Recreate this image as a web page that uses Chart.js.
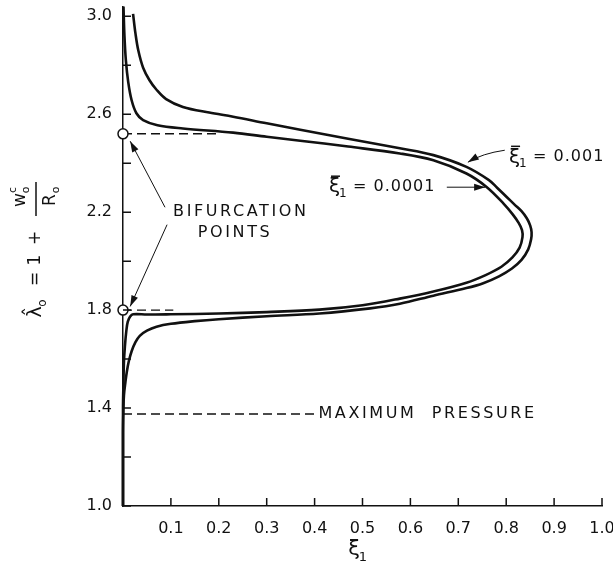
<!DOCTYPE html>
<html>
<head>
<meta charset="utf-8">
<script src="https://cdn.jsdelivr.net/npm/chart.js@4.4.1/dist/chart.umd.min.js"></script>
<style>
  html, body { margin: 0; padding: 0; background: #fff; }
  #wrap { width: 613px; height: 577px; }
</style>
</head>
<body>
<div id="wrap"><canvas id="chart" width="613" height="577"></canvas></div>
<script>
// data
const xTicks = [0, 0.1, 0.2, 0.3, 0.4, 0.5, 0.6, 0.7, 0.8, 0.9, 1.0];
const yTicks = [1.0, 1.2, 1.4, 1.6, 1.8, 2.0, 2.2, 2.4, 2.6, 2.8, 3.0];
const yTickLabels = ['1.0', '', '1.4', '', '1.8', '', '2.2', '', '2.6', '', '3.0'];

// xi_bar = 0.001 (outer loop), from lambda = 1 up the lower branch, round the nose, up the top branch
const outerXi = [0, 0, 0.001, 0.002, 0.005, 0.008, 0.012, 0.018, 0.026, 0.035, 0.05, 0.07, 0.1, 0.15, 0.2, 0.3, 0.41,
  0.516, 0.578, 0.648, 0.717, 0.752, 0.785, 0.812, 0.832, 0.846, 0.852, 0.853, 0.850, 0.843, 0.832, 0.818, 0.801, 0.781, 0.764,
  0.717, 0.648, 0.578, 0.47, 0.37, 0.3, 0.23, 0.18, 0.125, 0.09, 0.07, 0.055, 0.042, 0.032, 0.026, 0.021];
const outerLam = [1.0, 1.3, 1.40, 1.453, 1.505, 1.548, 1.590, 1.632, 1.669, 1.695, 1.716, 1.732, 1.744, 1.755, 1.763, 1.775, 1.786,
  1.807, 1.826, 1.859, 1.890, 1.910, 1.938, 1.970, 2.005, 2.048, 2.089, 2.118, 2.146, 2.175, 2.204, 2.23, 2.262, 2.30, 2.331,
  2.385, 2.433, 2.461, 2.50, 2.537, 2.563, 2.59, 2.607, 2.63, 2.662, 2.70, 2.74, 2.79, 2.86, 2.93, 3.01];

// xi_bar = 0.0001 (inner loop)
const innerXi = [0, 0, 0.001, 0.002, 0.004, 0.007, 0.01, 0.015, 0.021, 0.05, 0.1, 0.2, 0.3, 0.41, 0.5,
  0.578, 0.648, 0.717, 0.757, 0.790, 0.813, 0.828, 0.834, 0.833, 0.826, 0.814, 0.794, 0.759, 0.717, 0.648, 0.578,
  0.47, 0.37, 0.3, 0.23, 0.125, 0.072, 0.042, 0.028, 0.018, 0.011, 0.006, 0.003, 0.001];
const innerLam = [1.0, 1.4, 1.505, 1.590, 1.653, 1.716, 1.753, 1.774, 1.783, 1.782, 1.783, 1.786, 1.792, 1.802, 1.820,
  1.847, 1.876, 1.912, 1.943, 1.977, 2.015, 2.055, 2.098, 2.127, 2.156, 2.190, 2.236, 2.303, 2.358, 2.412, 2.440,
  2.468, 2.492, 2.508, 2.525, 2.542, 2.555, 2.576, 2.604, 2.657, 2.73, 2.82, 2.92, 3.04];

const bifXi = [0, 0];
const bifLam = [2.52, 1.80];
const upperDashXi = [0, 0.2];
const lowerDashXi = [0, 0.105];
const maxPressureXi = [0, 0.405];
const maxPressureLam = 1.376;

function pts(xs, ys) {
    return xs.map((x, i) => ({ x: x, y: Array.isArray(ys) ? ys[i] : ys }));
}

const FONT = '"DejaVu Sans", sans-serif';
const INK = '#111';

// annotation text and arrows, placed in data coordinates
const notes = [
    { text: 'BIFURCATION', x: 0.246, y: 2.20, align: 'center' },
    { text: 'POINTS', x: 0.234, y: 2.114, align: 'center' },
    { text: 'MAXIMUM  PRESSURE', x: 0.408, y: 1.376, align: 'left' }
];
const xiNotes = [
    { value: '= 0.001', x: 0.806, y: 2.424 },
    { value: '= 0.0001', x: 0.43, y: 2.302 }
];
const arrows = [
    { from: [0.0877, 2.22], to: [0.015, 2.49] },
    { from: [0.092, 2.149], to: [0.015, 1.815] },
    { from: [0.676, 2.302], to: [0.756, 2.302] },
    { from: [0.797, 2.453], to: [0.720, 2.404], bend: [0.75, 2.44] }
];

function drawXi(ctx, px, py, size) {
    // xi with subscript 1
    ctx.font = size + 'px ' + FONT;
    ctx.textAlign = 'left';
    ctx.textBaseline = 'middle';
    ctx.fillText('ξ', px, py);
    ctx.font = Math.round(size * 0.6) + 'px ' + FONT;
    ctx.fillText('1', px + size * 0.5, py + size * 0.35);
}

const decorPlugin = {
    id: 'decor',
    afterDraw(chart) {
        const ctx = chart.ctx;
        const xs = chart.scales.x, ys = chart.scales.y;
        const area = chart.chartArea;
        ctx.save();
        ctx.strokeStyle = INK;
        ctx.fillStyle = INK;
        ctx.lineWidth = 1.5;

        // inward ticks
        ctx.beginPath();
        xTicks.forEach(v => {
            if (v === 0) return;
            const px = xs.getPixelForValue(v);
            ctx.moveTo(px, area.bottom);
            ctx.lineTo(px, area.bottom - 8);
        });
        yTicks.forEach(v => {
            const py = ys.getPixelForValue(v);
            ctx.moveTo(area.left, py);
            ctx.lineTo(area.left + 8, py);
        });
        ctx.stroke();

        // annotation text
        ctx.font = '16px ' + FONT;
        ctx.letterSpacing = '2.6px';
        ctx.textBaseline = 'middle';
        notes.forEach(n => {
            ctx.textAlign = n.align;
            ctx.fillText(n.text, xs.getPixelForValue(n.x), ys.getPixelForValue(n.y));
        });
        ctx.letterSpacing = '0px';

        // xi_bar labels
        xiNotes.forEach(n => {
            const px = xs.getPixelForValue(n.x), py = ys.getPixelForValue(n.y);
            drawXi(ctx, px, py, 20);
            ctx.lineWidth = 1.5;
            ctx.beginPath();
            ctx.moveTo(px + 2, py - 11);
            ctx.lineTo(px + 11, py - 11);
            ctx.stroke();
            ctx.font = '16px ' + FONT;
            ctx.letterSpacing = '1px';
            ctx.fillText(n.value, px + 24, py);
            ctx.letterSpacing = '0px';
        });

        // arrows
        ctx.lineWidth = 1;
        arrows.forEach(a => {
            const x0 = xs.getPixelForValue(a.from[0]), y0 = ys.getPixelForValue(a.from[1]);
            const x1 = xs.getPixelForValue(a.to[0]), y1 = ys.getPixelForValue(a.to[1]);
            ctx.beginPath();
            ctx.moveTo(x0, y0);
            let ang;
            if (a.bend) {
                const bx = xs.getPixelForValue(a.bend[0]), by = ys.getPixelForValue(a.bend[1]);
                ctx.quadraticCurveTo(bx, by, x1, y1);
                ang = Math.atan2(y1 - by, x1 - bx);
            } else {
                ctx.lineTo(x1, y1);
                ang = Math.atan2(y1 - y0, x1 - x0);
            }
            ctx.stroke();
            const L = 11, W = 3.5;
            ctx.beginPath();
            ctx.moveTo(x1, y1);
            ctx.lineTo(x1 - L * Math.cos(ang) + W * Math.sin(ang), y1 - L * Math.sin(ang) - W * Math.cos(ang));
            ctx.lineTo(x1 - L * Math.cos(ang) - W * Math.sin(ang), y1 - L * Math.sin(ang) + W * Math.cos(ang));
            ctx.closePath();
            ctx.fill();
        });

        // y axis title: lambda_hat_0 = 1 + w0^c / R0, rotated
        ctx.save();
        ctx.translate(36, 250);
        ctx.rotate(-Math.PI / 2);
        ctx.textAlign = 'center';
        ctx.textBaseline = 'middle';
        ctx.font = '19px ' + FONT;
        ctx.fillText('λ̂', -62, 0);
        ctx.font = '12px ' + FONT;
        ctx.fillText('o', -53, 7);
        ctx.font = '17px ' + FONT;
        ctx.fillText('=', -29, 0);
        ctx.fillText('1', -10, 0);
        ctx.fillText('+', 12, 0);
        ctx.fillText('w', 50, -15);
        ctx.font = '11px ' + FONT;
        ctx.fillText('c', 60, -23);
        ctx.fillText('o', 60, -10);
        ctx.font = '17px ' + FONT;
        ctx.fillText('R', 50, 15);
        ctx.font = '11px ' + FONT;
        ctx.fillText('o', 60, 20);
        ctx.lineWidth = 1.5;
        ctx.beginPath();
        ctx.moveTo(34, 0);
        ctx.lineTo(68, 0);
        ctx.stroke();
        ctx.restore();

        // x axis title
        drawXi(ctx, xs.getPixelForValue(0.47), 550, 21);
        ctx.restore();
    }
};

const curveStyle = {
    showLine: true, pointRadius: 0, borderColor: INK, borderWidth: 2.6,
    tension: 0.35, clip: false, order: 2, fill: false
};
const dashStyle = {
    showLine: true, pointRadius: 0, borderColor: INK, borderWidth: 1.4,
    borderDash: [9, 5], clip: false, order: 3, fill: false
};

new Chart(document.getElementById('chart'), {
    type: 'scatter',
    data: {
        datasets: [
            Object.assign({ label: 'xi = 0.001', data: pts(outerXi, outerLam) }, curveStyle),
            Object.assign({ label: 'xi = 0.0001', data: pts(innerXi, innerLam) }, curveStyle),
            Object.assign({ label: 'upper dash', data: pts(upperDashXi, bifLam[0]) }, dashStyle),
            Object.assign({ label: 'lower dash', data: pts(lowerDashXi, bifLam[1]) }, dashStyle),
            Object.assign({ label: 'max pressure', data: pts(maxPressureXi, maxPressureLam) }, dashStyle),
            {
                label: 'bifurcation points',
                data: pts(bifXi, bifLam),
                pointRadius: 5,
                pointBackgroundColor: '#fff',
                pointBorderColor: INK,
                pointBorderWidth: 1.5,
                clip: false,
                order: 0
            }
        ]
    },
    options: {
        responsive: false,
        animation: false,
        layout: { padding: { top: 6, right: 11, left: 0, bottom: 0 } },
        plugins: {
            legend: { display: false },
            tooltip: { enabled: false }
        },
        scales: {
            x: {
                type: 'linear',
                min: 0,
                max: 1,
                grid: { display: false },
                border: { display: true, color: INK, width: 1.5 },
                afterBuildTicks: s => { s.ticks = xTicks.map(v => ({ value: v })); },
                afterFit: s => { s.height = 71; s.paddingLeft = 0; s.paddingRight = 0; },
                ticks: {
                    color: INK,
                    font: { family: FONT, size: 16 },
                    padding: 5,
                    maxRotation: 0,
                    autoSkip: false,
                    callback: v => (v === 0 ? '' : v.toFixed(1))
                }
            },
            y: {
                type: 'linear',
                min: 1.0,
                max: 3.04,
                grid: { display: false },
                border: { display: true, color: INK, width: 1.5 },
                afterBuildTicks: s => { s.ticks = yTicks.map(v => ({ value: v })); },
                afterFit: s => { s.width = 123; s.paddingTop = 0; s.paddingBottom = 0; },
                ticks: {
                    color: INK,
                    font: { family: FONT, size: 16 },
                    padding: 3,
                    autoSkip: false,
                    callback: (v, i) => yTickLabels[i]
                }
            }
        }
    },
    plugins: [decorPlugin]
});
</script>
</body>
</html>
